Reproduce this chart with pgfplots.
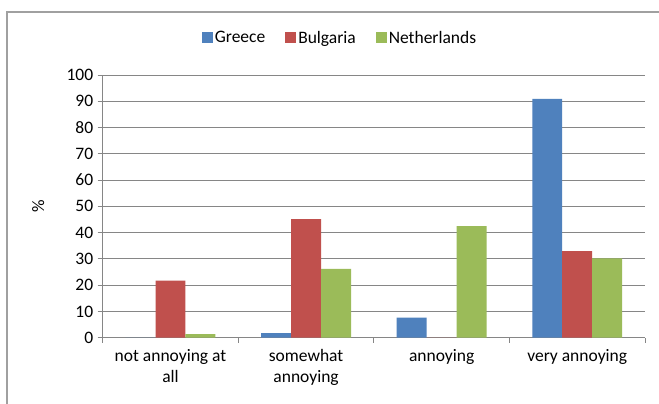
\documentclass[border=0pt]{standalone}
\usepackage{fontspec}
\setmainfont{Carlito}
\usepackage{pgfplots}
\pgfplotsset{compat=1.18}
\definecolor{cGreece}{HTML}{4F81BD}
\definecolor{cBulgaria}{HTML}{C0504D}
\definecolor{cNeth}{HTML}{9BBB59}
\definecolor{axisgray}{HTML}{868686}
\definecolor{bordergray}{HTML}{A0A0A0}
\begin{document}
\begin{tikzpicture}[x=1bp,y=1bp]
\useasboundingbox (0,0) rectangle (659,403);
\fill[white] (0,0) rectangle (659,403);
\draw[bordergray, line width=1.5bp] (7,-5) -- (7,391) -- (670,391);
\begin{axis}[
  at={(102.7bp,65.3bp)}, anchor=south west,
  scale only axis, width=542.3bp, height=262.7bp,
  xmin=-0.5, xmax=3.5, ymin=0, ymax=100,
  ytick={0,10,...,100},
  xtick={0,1,2,3},
  xticklabels={{not annoying at\\all},{somewhat\\annoying},{annoying},{very annoying}},
  minor xtick={-0.5,0.5,1.5,2.5,3.5},
  axis lines*=left,
  axis line style={axisgray, line width=0.9bp},
  tick align=outside,
  major tick length=5bp, minor tick length=5bp,
  every tick/.style={axisgray, line width=0.9bp},
  major x tick style={draw=none},
  ymajorgrids,
  grid style={axisgray, line width=0.9bp},
  tick label style={font=\fontsize{17.5bp}{21bp}\selectfont, text=black},
  /pgf/number format/assume math mode=true,
  xticklabel style={align=center, yshift=-3bp},
  yticklabel style={xshift=-1bp},
  ylabel={\%},
  ylabel style={at={(axis description cs:-0.119,0.5)}, anchor=center, rotate=0, font=\fontsize{17.5bp}{21bp}\selectfont},
  ybar, bar width=0.221,
  legend style={at={(axis description cs:0.4376,1.141)}, anchor=center, draw=none, legend columns=3,
    font=\fontsize{17.5bp}{21bp}\selectfont,
    /tikz/every even column/.append style={column sep=18bp}},
  legend image code/.code={\fill[#1] (0bp,-5.5bp) rectangle (11bp,5.5bp);},
]
\addplot[fill=cGreece, draw=none, bar shift=-0.221] coordinates {(0,0) (1,1.7) (2,7.6) (3,90.9)};
\addplot[fill=cBulgaria, draw=none, bar shift=0] coordinates {(0,21.7) (1,45.1) (2,0) (3,33.0)};
\addplot[fill=cNeth, draw=none, bar shift=0.221] coordinates {(0,1.4) (1,26.2) (2,42.5) (3,30.2)};
\legend{Greece,Bulgaria,Netherlands}
\end{axis}
\end{tikzpicture}
\end{document}
